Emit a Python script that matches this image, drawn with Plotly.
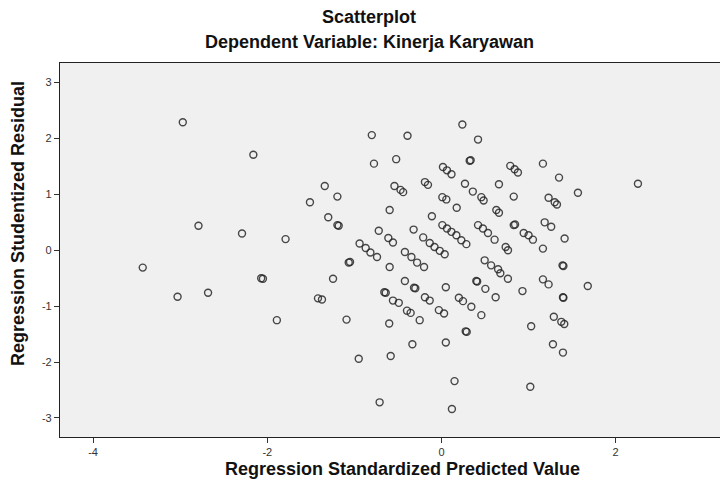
import plotly.graph_objects as go

# Regression Standardized Predicted Value (x) and Regression Studentized Residual (y)
x_pred = [
    -2.97, -2.16, -2.79, -2.29, -1.79, -3.43, -3.03, -2.68, -2.07, -2.05, -1.89, -1.51,
    -0.80, -0.39, -0.775, -0.52, -1.34, -1.195, -0.54, -0.47, -0.44, -0.19, -0.155,
    0.017, 0.063, 0.115, 0.01, 0.056, -0.595, -0.11, -1.30, -1.195, -1.18, -0.72, -0.32,
    -0.61, -0.557, -0.21, -0.135, -0.08, -0.02, 0.037,
    -0.94, -0.87, -0.816, -0.74, -0.42, -0.345, -0.28, -0.20, -1.065, -1.05, -0.595,
    -1.245, -0.42, -0.315, -0.30, 0.05, -1.418, -1.372, -0.656, -0.64, -0.557, -0.49,
    -0.19, -0.135, -0.396, -0.354, -0.25, -0.03, 0.03, -1.09, -0.60, -0.334, 0.05,
    -0.95, -0.583, -0.71, 0.12,
    0.24, 0.42, 0.324, 0.335, 0.79, 0.84, 0.878, 1.165, 1.35, 1.567, 0.27, 0.36, 0.66,
    0.458, 0.484, 0.83, 1.23, 1.30, 1.326, 0.175, 0.63, 0.66, 1.185, 1.26, 0.83, 0.845,
    0.01, 0.063, 0.114, 0.171, 0.228, 0.286, 0.42, 0.476, 0.534, 0.61, 0.944, 1.0, 1.05,
    1.414, 1.165, 0.737, 0.764, 0.496, 0.57, 0.65, 0.676, 1.39, 1.40,
    0.763, 0.40, 0.41, 0.504, 0.622, 0.93, 1.165, 1.23, 1.68, 1.395, 1.40, 0.20, 0.247,
    0.343, 0.458, 0.278, 0.29, 1.03, 1.29, 1.376, 1.41, 1.28, 1.395, 0.15, 1.02, 2.256,
]
y_resid = [
    2.29, 1.71, 0.44, 0.30, 0.20, -0.31, -0.83, -0.76, -0.50, -0.51, -1.25, 0.86,
    2.06, 2.05, 1.55, 1.63, 1.15, 0.96, 1.15, 1.08, 1.04, 1.22, 1.17,
    1.49, 1.43, 1.36, 0.95, 0.91, 0.72, 0.61, 0.59, 0.45, 0.44, 0.35, 0.37,
    0.22, 0.14, 0.23, 0.13, 0.06, -0.01, -0.07,
    0.12, 0.04, -0.04, -0.12, -0.03, -0.12, -0.22, -0.30, -0.22, -0.21, -0.30,
    -0.51, -0.55, -0.67, -0.68, -0.66, -0.86, -0.88, -0.75, -0.76, -0.90, -0.94,
    -0.84, -0.90, -1.08, -1.12, -1.25, -1.07, -1.13, -1.24, -1.31, -1.68, -1.65,
    -1.94, -1.89, -2.72, -2.84,
    2.25, 1.98, 1.60, 1.61, 1.51, 1.45, 1.39, 1.55, 1.30, 1.03, 1.19, 1.05, 1.18,
    0.95, 0.89, 0.96, 0.94, 0.86, 0.82, 0.76, 0.72, 0.67, 0.50, 0.42, 0.45, 0.46,
    0.45, 0.39, 0.33, 0.27, 0.18, 0.11, 0.45, 0.39, 0.31, 0.19, 0.31, 0.27, 0.19,
    0.21, 0.03, 0.06, 0.00, -0.18, -0.27, -0.34, -0.41, -0.27, -0.28,
    -0.51, -0.55, -0.56, -0.69, -0.84, -0.73, -0.52, -0.61, -0.64, -0.84, -0.85, -0.85, -0.91,
    -1.01, -1.16, -1.45, -1.46, -1.36, -1.19, -1.28, -1.32, -1.68, -1.83, -2.34, -2.44, 1.19,
]

x_ticks = [-4, -2, 0, 2]
x_ticklabels = ["-4", "-2", "0", "2"]
y_ticks = [-3, -2, -1, 0, 1, 2, 3]
y_ticklabels = ["-3", "-2", "-1", "0", "1", "2", "3"]

title_main = "Scatterplot"
title_sub = "Dependent Variable: Kinerja Karyawan"
x_title = "Regression Standardized Predicted Value"
y_title = "Regression Studentized Residual"

FONT = "Liberation Sans, Arial, sans-serif"

# page is offset by the default 8px body margin
OFF = 8
W, H = 728 - OFF, 484 - OFF
# plot area in page pixels: left 60, top 63, bottom 437, right 728
L = 60 - OFF
T = 63 - OFF
B = H - (437 - OFF)
pw, ph = W - L, H - T - B

def px_x(px):
    return (px - OFF - L) / pw

def px_y(py):
    return (H - B - (py - OFF)) / ph

fig = go.Figure()
fig.add_trace(go.Scatter(
    x=x_pred, y=y_resid, mode="markers",
    marker=dict(symbol="circle-open", size=7,
                color="rgba(40,40,40,0.85)", line=dict(width=1.4)),
    hoverinfo="x+y", showlegend=False,
))

axis_common = dict(
    showgrid=False, zeroline=False, showline=True, linecolor="#222222",
    linewidth=1.2, mirror=True, ticks="outside", ticklen=5, tickwidth=1,
    tickcolor="#333333", tickfont=dict(family=FONT, size=11, color="#333333"),
)

def ann(text, x, y, size, angle=0):
    return dict(text=f"<b>{text}</b>", xref="paper", yref="paper",
                x=px_x(x), y=px_y(y), xanchor="center", yanchor="middle",
                showarrow=False, textangle=angle,
                font=dict(family=FONT, size=size, color="#111111"))

fig.update_layout(
    width=W, height=H,
    margin=dict(l=L, r=0, t=T, b=B),
    paper_bgcolor="white",
    plot_bgcolor="#f0f0f0",
    xaxis=dict(range=[-4.38, 3.29], tickvals=x_ticks, ticktext=x_ticklabels,
               **axis_common),
    yaxis=dict(range=[-3.34, 3.35], tickvals=y_ticks, ticktext=y_ticklabels,
               **axis_common),
    annotations=[
        ann(title_main, 369, 17, 18),
        ann(title_sub, 369, 42, 18),
        ann(x_title, 402, 469, 18),
        ann(y_title, 18, 224, 18, -90),
    ],
)

fig.write_html("out.html")
